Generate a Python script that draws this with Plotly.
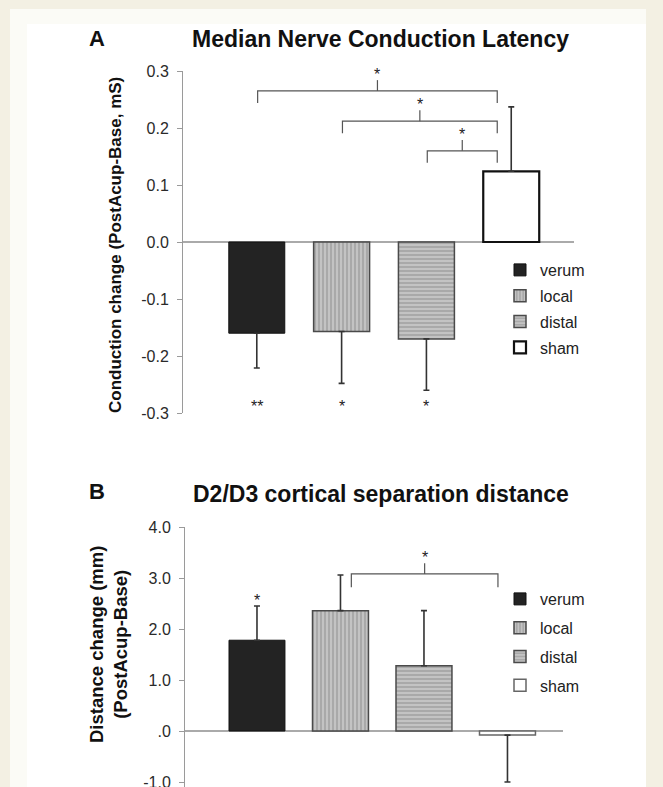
import plotly.graph_objects as go

# ---------------- data ----------------
groups = ["verum", "local", "distal", "sham"]

# Panel A: Median nerve conduction latency change (mS)
a_means = [-0.160, -0.157, -0.170, 0.124]
a_err_plus = [0.0, 0.0, 0.0, 0.113]
a_err_minus = [0.061, 0.091, 0.090, 0.0]
a_stars_below = ["**", "*", "*", ""]
a_tickvals = [0.3, 0.2, 0.1, 0.0, -0.1, -0.2, -0.3]
a_ticktext = ["0.3", "0.2", "0.1", "0.0", "-0.1", "-0.2", "-0.3"]
a_brackets = [("verum", "sham", 0.265), ("local", "sham", 0.212), ("distal", "sham", 0.160)]

# Panel B: D2/D3 cortical separation distance change (mm)
b_means = [1.78, 2.36, 1.28, -0.08]
b_err_plus = [0.67, 0.70, 1.08, 0.0]
b_err_minus = [0.0, 0.0, 0.0, 0.92]
b_stars_above = ["*", "", "", ""]
b_tickvals = [4.0, 3.0, 2.0, 1.0, 0.0, -1.0]
b_ticktext = ["4.0", "3.0", "2.0", "1.0", ".0", "-1.0"]
b_brackets = [("local", "sham", 3.08)]

# ---------------- styling ----------------
W, H = 663, 787
FONT = "Liberation Sans, Arial, sans-serif"
TXT = "#222222"
AX = "#9a9a9a"

def px_x(p):
    return p / W

def px_y(p):
    return 1 - p / H

styles = {
    "verum": dict(color="#232323", line=dict(color="#111111", width=1)),
    "local": dict(color="#a9a9a9", line=dict(color="#4a4a4a", width=1.5),
                  pattern=dict(shape="|", fgcolor="#f4f4f4", bgcolor="#a9a9a9", size=4, solidity=0.35)),
    "distal": dict(color="#a9a9a9", line=dict(color="#4a4a4a", width=1.5),
                   pattern=dict(shape="-", fgcolor="#f4f4f4", bgcolor="#a9a9a9", size=4, solidity=0.35)),
}
sham_a = dict(color="#ffffff", line=dict(color="#111111", width=2.2))
sham_b = dict(color="#ffffff", line=dict(color="#666666", width=1.5))

fig = go.Figure()

def add_panel(means, ep, em, xa, ya, legend, sham_style, width):
    for i, g in enumerate(groups):
        st = styles[g] if g != "sham" else sham_style
        fig.add_trace(go.Bar(
            x=[i], y=[means[i]], width=width, name=g, xaxis=xa, yaxis=ya,
            legend=legend, legendgroup=legend + g,
            marker=st,
            error_y=dict(type="data", symmetric=False, array=[ep[i]], arrayminus=[em[i]],
                         color="#333333", thickness=1.6, width=3),
            hoverinfo="skip",
        ))

add_panel(a_means, a_err_plus, a_err_minus, "x", "y", "legend", sham_a, 0.66)
add_panel(b_means, b_err_plus, b_err_minus, "x2", "y2", "legend2", sham_b, 0.67)

shapes = [
    dict(type="rect", xref="paper", yref="paper", x0=px_x(10), x1=px_x(646), y0=0, y1=px_y(9),
         fillcolor="#fbfbf6", line=dict(width=0), layer="below"),
    dict(type="rect", xref="paper", yref="paper", x0=px_x(27), x1=px_x(646), y0=0, y1=px_y(24),
         fillcolor="#ffffff", line=dict(width=0), layer="below"),
]
annotations = []

def add_brackets(brackets, xref, yref, loff, roff, drop, rise):
    for left, right, yb in brackets:
        xl = groups.index(left) + loff
        xr = groups.index(right) + roff
        xm = (xl + xr) / 2
        shapes.append(dict(type="path", xref=xref, yref=yref,
                           path=f"M {xl},{yb - drop} L {xl},{yb} L {xr},{yb} L {xr},{yb - drop}",
                           line=dict(color="#555555", width=1.2)))
        shapes.append(dict(type="line", xref=xref, yref=yref, x0=xm, x1=xm, y0=yb, y1=yb + rise,
                           line=dict(color="#555555", width=1.2)))
        annotations.append(dict(x=xm, y=yb + rise, xref=xref, yref=yref, text="*",
                                showarrow=False, xanchor="center", yanchor="bottom", yshift=-5,
                                font=dict(family=FONT, size=16, color=TXT)))

add_brackets(a_brackets, "x", "y", 0.01, -0.165, 0.021, 0.019)
add_brackets(b_brackets, "x2", "y2", 0.13, -0.114, 0.26, 0.21)

for i, s in enumerate(a_stars_below):
    if s:
        annotations.append(dict(x=i, y=-0.283, xref="x", yref="y", text=s, showarrow=False,
                                xanchor="center", yanchor="middle", yshift=-3,
                                font=dict(family=FONT, size=16, color=TXT)))
for i, s in enumerate(b_stars_above):
    if s:
        annotations.append(dict(x=i, y=b_means[i] + b_err_plus[i], xref="x2", yref="y2", text=s,
                                showarrow=False, xanchor="center", yanchor="bottom", yshift=-5,
                                font=dict(family=FONT, size=16, color=TXT)))

def label(x, y, text, size, angle=0):
    return dict(x=px_x(x), y=px_y(y), xref="paper", yref="paper", text=text, showarrow=False,
                xanchor="center", yanchor="middle", textangle=angle,
                font=dict(family=FONT, size=size, color="#111111"))

annotations += [
    label(97, 39, "<b>A</b>", 22),
    label(381, 39, "<b>Median Nerve Conduction Latency</b>", 23),
    label(97, 491, "<b>B</b>", 22),
    label(381, 494, "<b>D2/D3 cortical separation distance</b>", 23),
    label(116, 245, "<b>Conduction change (PostAcup-Base, mS)</b>", 17, -90),
    label(108, 645, "<b>Distance change (mm)<br>(PostAcup-Base)</b>", 18.5, -90),
]

yaxis_common = dict(showline=True, linecolor=AX, linewidth=1, ticks="outside", ticklen=5,
                    tickcolor=AX, showgrid=False, zeroline=True, zerolinecolor="#aaaaaa",
                    zerolinewidth=1.5, tickfont=dict(family=FONT, size=16, color="#2a2a2a"),
                    ticklabelstandoff=5, ticklabeloverflow="allow",
                    fixedrange=True, automargin=False)
xaxis_common = dict(visible=False, fixedrange=True)

legend_common = dict(xanchor="left", yanchor="top", bgcolor="rgba(0,0,0,0)",
                     font=dict(family=FONT, size=16, color=TXT), itemwidth=30,
                     traceorder="grouped")

fig.update_layout(
    width=W, height=H, margin=dict(l=0, r=0, t=0, b=0, autoexpand=False),
    paper_bgcolor="#f3f0e3", plot_bgcolor="rgba(0,0,0,0)",
    showlegend=True, barmode="overlay",
    xaxis=dict(domain=[px_x(183), px_x(574)], range=[-0.87, 3.74], anchor="y", **xaxis_common),
    yaxis=dict(domain=[px_y(413), px_y(71)], range=[-0.3, 0.3], anchor="x",
               tickvals=a_tickvals, ticktext=a_ticktext, **yaxis_common),
    xaxis2=dict(domain=[px_x(185), px_x(563)], range=[-0.862, 3.665], anchor="y2", **xaxis_common),
    yaxis2=dict(domain=[0, px_y(527)], range=[-1.098, 4.0], anchor="x2",
                tickvals=b_tickvals, ticktext=b_ticktext, **yaxis_common),
    legend=dict(x=px_x(500), y=px_y(253), tracegroupgap=2, **legend_common),
    legend2=dict(x=px_x(500), y=px_y(582), tracegroupgap=5, **legend_common),
    shapes=shapes, annotations=annotations,
)

fig.write_html(
    "out.html",
    config={"displayModeBar": False, "staticPlot": True},
    post_script="document.documentElement.style.margin='0';document.body.style.margin='0';"
                "document.body.style.overflow='hidden';document.body.style.background='#f3f0e3';",
)
